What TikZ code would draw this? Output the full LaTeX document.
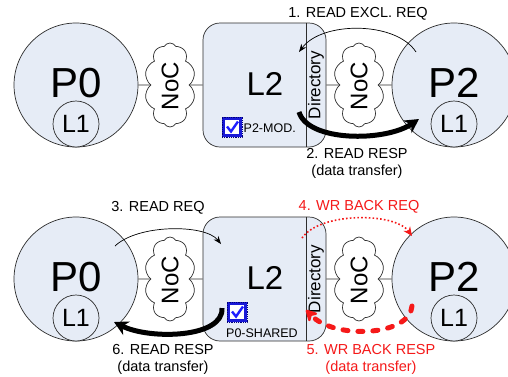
\documentclass[tikz,border=0pt]{standalone}
\usepackage{fontspec}
\setmainfont{Liberation Sans}
\usetikzlibrary{shapes.symbols,arrows.meta,calc}
\definecolor{fillc}{RGB}{230,236,246}
\definecolor{linec}{RGB}{45,45,45}
\definecolor{redc}{RGB}{245,25,25}
\definecolor{chkblue}{RGB}{25,25,215}
\definecolor{chkdark}{RGB}{0,0,120}
\definecolor{chkcheck}{RGB}{30,30,255}
\begin{document}
\begin{tikzpicture}[x=1pt,y=-1pt,
  proc/.style={circle, draw=linec, fill=fillc, line width=0.7pt, minimum size=124pt, inner sep=0pt},
  cachec/.style={circle, draw=linec, fill=fillc, line width=0.7pt, minimum size=46pt, inner sep=0pt, font=\fontsize{25}{25}\selectfont},
  bigtxt/.style={font=\fontsize{42}{42}\selectfont, anchor=base, inner sep=0pt},
  l2txt/.style={font=\fontsize{33}{33}\selectfont, anchor=base, inner sep=0pt},
  noc/.style={cloud, cloud puffs=10, cloud puff arc=120, cloud ignores aspect, draw=linec, fill=white, line width=0.7pt, minimum width=51pt, minimum height=84pt, inner sep=0pt},
  noctxt/.style={rotate=90, font=\fontsize{24}{24}\selectfont, inner sep=0pt},
  l2box/.style={rectangle, rounded corners=17pt, draw=linec, fill=fillc, line width=0.7pt, minimum width=123pt, minimum height=124pt, inner sep=0pt},
  dirtxt/.style={rotate=90, font=\fontsize{17}{17}\selectfont, inner sep=0pt},
  wire/.style={draw=linec, line width=0.7pt},
  lbl/.style={font=\fontsize{14.5}{17}\selectfont, align=center, inner sep=0pt},
  small/.style={font=\fontsize{12.5}{12.5}\selectfont, inner sep=0pt},
  thinarr/.style={draw=black, line width=0.7pt, -{Stealth[length=8pt,width=6pt]}},
  thickarr/.style={draw=black, line width=5pt, -{Stealth[length=14pt,width=15pt]}},
  redthin/.style={draw=redc, line width=1.6pt, dash pattern=on 1.6pt off 2.2pt, -{Stealth[length=9pt,width=8pt]}},
  redthick/.style={draw=redc, line width=5pt, line cap=round, dash pattern=on 5pt off 10pt, -{Stealth[length=14pt,width=15pt,round]}},
  chk/.style={rectangle, minimum size=20pt, inner sep=0pt, fill=chkblue, draw=chkdark, line width=0.8pt, densely dotted,
    path picture={
      \fill[white] ($(path picture bounding box.center)+(-7,-7)$) rectangle ($(path picture bounding box.center)+(7,7)$);
      \draw[chkcheck, line width=2.4pt, solid] ($(path picture bounding box.center)+(-5,-0.5)$) -- ($(path picture bounding box.center)+(-1,4.5)$) -- ($(path picture bounding box.center)+(6,-5.5)$);
    }}
]
\useasboundingbox (0,0) rectangle (508,376);
\clip (0,0) rectangle (508,376);
\fill[white] (0,0) rectangle (508,376);

% ---------------- top row ----------------
\node[proc] (p0t) at (76,85) {};
\node[bigtxt] (p0tt) at (76,97) {P0};
\node[cachec] (l1a) at (76,124) {L1};
\node[noc] (noc1) at (170,85) {};
\node[noctxt] (noc1t) at (170,86) {NoC};
\node[l2box] (l2t) at (264.5,85) {};
\node[l2txt] (l2tt) at (265,95) {L2};
\draw[wire] ($(l2t.north east)+(-20,0)$) -- ($(l2t.south east)+(-20,0)$);
\node[dirtxt] (dir1) at (316,85) {Directory};
\node[noc] (noc2) at (359,85) {};
\node[noctxt] (noc2t) at (359,86) {NoC};
\node[proc] (p2t) at (454,85) {};
\node[bigtxt] (p2tt) at (454,97) {P2};
\node[cachec] (l1b) at (454,124) {L1};
\draw[wire] (p0t) -- (noc1);
\draw[wire] (noc1) -- (l2t);
\draw[wire] (l2t) -- (noc2);
\draw[wire] (noc2) -- (p2t);
\node[chk] (ck1) at (232,127) {};
\node[small, anchor=west] (mod) at (243.5,128) {P2-MOD.};

\coordinate (a1s) at (416,52);
\coordinate (a1e) at (299,52);
\draw[thinarr] (a1s) .. controls (396,21) and (322,21) .. (a1e);
\node[lbl] (t1) at (358,14) {1. READ EXCL. REQ};
\coordinate (a2s) at (299,112);
\coordinate (a2e) at (419,119);
\draw[thickarr] (a2s) .. controls (308,142) and (385,142) .. (a2e);
\node[lbl] (t2) at (357,163.5) {2. READ RESP\\(data transfer)};

% ---------------- bottom row ----------------
\node[proc] (p0b) at (76,279) {};
\node[bigtxt] (p0bt) at (76,291) {P0};
\node[cachec] (l1c) at (76,318) {L1};
\node[noc] (noc3) at (170,279) {};
\node[noctxt] (noc3t) at (170,280) {NoC};
\node[l2box] (l2b) at (264.5,279) {};
\node[l2txt] (l2bt) at (265,289) {L2};
\draw[wire] ($(l2b.north east)+(-20,0)$) -- ($(l2b.south east)+(-20,0)$);
\node[dirtxt] (dir2) at (316,279) {Directory};
\node[noc] (noc4) at (359,279) {};
\node[noctxt] (noc4t) at (359,280) {NoC};
\node[proc] (p2b) at (454,279) {};
\node[bigtxt] (p2bt) at (454,291) {P2};
\node[cachec] (l1d) at (454,318) {L1};
\draw[wire] (p0b) -- (noc3);
\draw[wire] (noc3) -- (l2b);
\draw[wire] (l2b) -- (noc4);
\draw[wire] (noc4) -- (p2b);
\node[chk] (ck2) at (237,312) {};
\node[small, anchor=west] (shr) at (226,333) {P0-SHARED};

\coordinate (a3s) at (115,246);
\coordinate (a3e) at (221,244);
\draw[thinarr] (a3s) .. controls (138,224) and (205,224) .. (a3e);
\node[lbl] (t3) at (158,208) {3. READ REQ};
\coordinate (a6s) at (222,308);
\coordinate (a6e) at (114,322);
\draw[thickarr] (a6s) .. controls (224,338) and (150,340) .. (a6e);
\node[lbl] (t6) at (163,359.5) {6. READ RESP\\(data transfer)};

\coordinate (a4s) at (302,238);
\coordinate (a4e) at (412,236);
\draw[redthin] (a4s) .. controls (320,212) and (395,212) .. (a4e);
\node[lbl, text=redc] (t4) at (359,207) {4. WR BACK REQ};
\coordinate (a5s) at (412,306);
\coordinate (a5e) at (306,310);
\draw[redthick] (a5s) .. controls (410,336) and (335,340) .. (a5e);
\node[lbl, text=redc] (t5) at (371,359.5) {5. WR BACK RESP\\(data transfer)};
\end{tikzpicture}
\end{document}
